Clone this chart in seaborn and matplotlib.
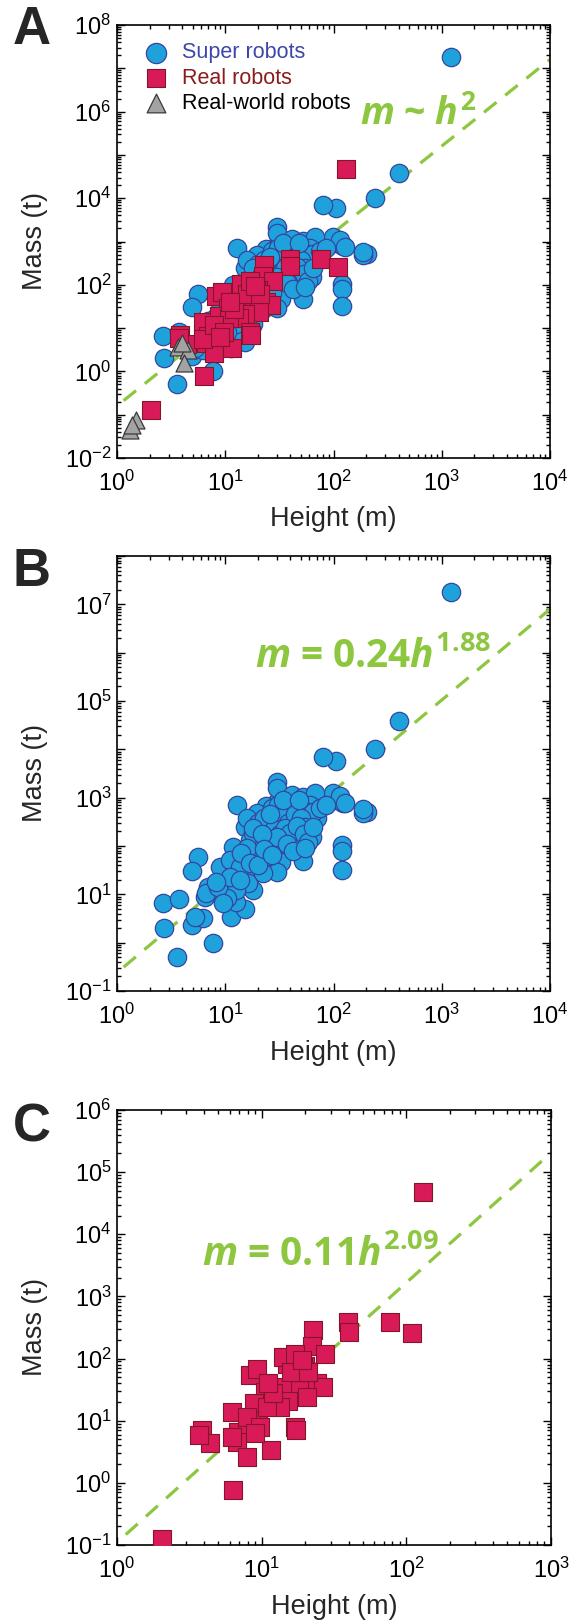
import matplotlib
matplotlib.use("Agg")
import matplotlib.pyplot as plt
import matplotlib.ticker as mticker
import numpy as np
import seaborn as sns

# super robots: height (m), mass (t)
SUPER_H = [12.9, 5.6, 4.9, 2.64, 3.7, 2.73, 3.56, 7.7, 4.9, 6.2, 5.25, 11.3, 15.2, 12.6,
           7.0, 6.5, 8.8, 10.3, 12.7, 11.9, 15.2, 18.2, 18.2, 16.9, 19.5, 24.1, 29.8, 25,
           20.9, 29.8, 42.5, 56.5, 47.2, 62.8, 47, 51.8, 69.8, 29.8, 39.6, 60.5, 101, 123,
           206, 120, 120, 120, 8.9, 11, 15.2, 19.5, 22.4, 30, 21, 24, 16.3, 12.7, 10.3,
           6.7, 8.6, 36.8, 42.5, 49, 34.3, 45.6, 70,
           1213, 402, 241, 105, 99.5, 121,
           80, 29.8, 29.8, 41, 52.5, 67, 60.5, 188, 24, 19.5, 42.5, 15.8,
           25.9, 33, 21.7, 18.2, 26.8, 33, 30, 13.7, 11, 13.7, 8.3, 9.6, 22.4, 52.5, 65,
           114, 127, 187,
           20, 23, 27, 31, 35, 38, 44, 50, 55, 28, 32, 36, 40, 46, 53, 58, 25, 30,
           18, 22, 26, 34, 48, 16, 14, 17, 20, 23, 27, 37, 42, 55, 65, 75, 85]
SUPER_M = [720, 60, 30, 6.5, 8.0, 2.0, 0.51, 1.0, 2.3, 3.2, 3.45, 3.45, 4.9, 6.9,
           14.5, 9, 12.7, 21.5, 47.5, 97, 250, 28, 12.3, 134, 407, 480, 440, 170,
           71, 90, 295, 295, 155, 155, 76, 48, 376, 830, 1050, 770, 900, 770,
           513, 105, 79, 32, 37, 51, 27, 60, 115, 250, 37, 60, 17, 12.3, 8.3,
           10.5, 14.5, 155, 115, 200, 560, 610, 770,
           1.8e7, 3.9e4, 1.0e4, 5800, 1240, 830,
           7100, 2150, 1580, 1150, 1050, 1240, 710, 480, 660, 480, 560, 376,
           345, 320, 250, 184, 97, 47.5, 29.5, 37, 23, 20, 18.3, 6.5, 27, 560, 515,
           1070, 760, 575,
           300, 380, 600, 700, 420, 300, 450, 380, 250, 230, 180, 240, 190, 260, 180, 120, 130, 150,
           240, 180, 450, 900, 900, 90, 70, 45, 40, 85, 65, 110, 80, 90, 250, 600, 700]

# real robots
REAL_H = [22.7, 22.2, 39.5, 40, 27.4, 14.9, 20, 16.5, 8.3, 9.3, 10.5, 14.1, 18.4, 24,
          26.7, 20.5, 15.3, 13.4, 9.5, 6.2, 8.8, 10.8, 17, 17.4, 8.1, 6.9, 3.85, 4.4,
          6.7, 7.9, 11.6, 6.2, 7.9, 9.7, 9, 2.06, 6.3, 3.7, 18.4, 131, 77, 110,
          19.4, 14.9, 14.1, 12, 16, 21, 11, 17, 19]
REAL_M = [286, 158, 390, 270, 120, 107, 76, 93, 54, 69, 29, 35, 31, 40,
          35, 24, 21, 16.7, 13, 13.8, 19, 16.7, 8, 7, 7.5, 6.6, 7.0, 4.4,
          4.6, 2.6, 3.4, 5.5, 11.5, 8, 6.3, 0.127, 0.78, 6.0, 76, 4.8e4, 390, 259,
          74, 83, 107, 28, 60, 60, 40, 120, 95]

# real-world robots
WORLD_H = [1.32, 1.5, 1.37, 3.68, 4.55, 4.15, 3.95]
WORLD_M = [0.044, 0.076, 0.058, 3.7, 3.1, 1.54, 4.5]

# fits m = c * h^k
FIT_A = (0.16, 2.0)
FIT_B = (0.24, 1.88)
FIT_C = (0.11, 2.09)

LABELS = ["Super robots", "Real robots", "Real-world robots"]
FORMULA_A = r"$m$ ~ $h^{2}$"
FORMULA_B = r"$m$ = 0.24$h^{1.88}$"
FORMULA_C = r"$m$ = 0.11$h^{2.09}$"

A_XEXP = [0, 1, 2, 3, 4]
A_YEXP = list(range(-2, 9))
A_YLAB = [-2, 0, 2, 4, 6, 8]
B_YEXP = list(range(-1, 9))
B_YLAB = [-1, 1, 3, 5, 7]
C_XEXP = [0, 1, 2, 3]
C_YEXP = list(range(-1, 7))
C_YLAB = C_YEXP

BLUE, BLUE_EDGE = "#1fa2dc", "#34469e"
RED, RED_EDGE = "#d91a58", "#84162c"
GRAY, GRAY_EDGE = "#a3a3a3", "#3a3a3a"
GREEN = "#8dc63f"

sns.set_style("ticks")
plt.rcParams["font.family"] = ["Liberation Sans", "DejaVu Sans"]
plt.rcParams["mathtext.fontset"] = "custom"
plt.rcParams["mathtext.rm"] = "Open Sans:bold"
plt.rcParams["mathtext.it"] = "Open Sans:italic:bold"
plt.rcParams["mathtext.bf"] = "Open Sans:bold"


def tick_text(exps, shown):
    return [r"$\mathdefault{10^{%d}}$" % e if e in shown else "" for e in exps]


def style_axes(ax, xexp, yexp, ylab):
    ax.set_xscale("log")
    ax.set_yscale("log")
    ax.set_xlim(10.0 ** xexp[0], 10.0 ** xexp[-1])
    ax.set_ylim(10.0 ** yexp[0], 10.0 ** yexp[-1])
    ax.set_xticks([10.0 ** e for e in xexp])
    ax.set_xticklabels(tick_text(xexp, xexp))
    ax.set_yticks([10.0 ** e for e in yexp])
    ax.set_yticklabels(tick_text(yexp, ylab))
    ax.xaxis.set_minor_locator(mticker.LogLocator(base=10, subs=np.arange(2, 10), numticks=100))
    ax.yaxis.set_minor_locator(mticker.LogLocator(base=10, subs=np.arange(2, 10), numticks=100))
    ax.xaxis.set_minor_formatter(mticker.NullFormatter())
    ax.yaxis.set_minor_formatter(mticker.NullFormatter())
    ax.tick_params(which="both", direction="in", top=True, right=True, width=1.0,
                   labelsize=17, colors="black")
    ax.tick_params(which="major", length=5.5)
    ax.tick_params(which="minor", length=3)
    ax.tick_params(axis="x", pad=9)
    ax.tick_params(axis="y", pad=4)
    for sp in ax.spines.values():
        sp.set_linewidth(1.2)
        sp.set_color("black")
    ax.set_xlabel("Height (m)", fontsize=19.5, va="center")
    ax.set_ylabel("Mass (t)", fontsize=19.5, va="center")
    ax.xaxis.set_label_coords(0.5, -0.142)
    ax.yaxis.set_label_coords(-0.19, 0.5)


def fit_line(ax, fit, hmax):
    c, k = fit
    h = np.array([1.15, hmax])
    sns.lineplot(x=h, y=c * h ** k, ax=ax, color=GREEN, linewidth=2.3,
                 linestyle=(0, (5, 3.5)), zorder=1)


def draw_super(ax, label=None):
    sns.scatterplot(x=SUPER_H, y=SUPER_M, ax=ax, marker="o", s=175, color=BLUE,
                    edgecolor=BLUE_EDGE, linewidth=0.9, label=label, zorder=3)


def draw_real(ax, label=None):
    sns.scatterplot(x=REAL_H, y=REAL_M, ax=ax, marker="s", s=150, color=RED,
                    edgecolor=RED_EDGE, linewidth=0.8, label=label, zorder=4)


fig = plt.figure(figsize=(5.72, 16.22), dpi=100)
W, H = 572, 1622
axA = fig.add_axes([117 / W, 1 - 458 / H, 433 / W, 433 / H])
axB = fig.add_axes([117 / W, 1 - 991 / H, 433 / W, 435 / H])
axC = fig.add_axes([117 / W, 1 - 1545 / H, 434 / W, 435 / H])

# panel A
fit_line(axA, FIT_A, 1e4)
draw_super(axA, LABELS[0])
draw_real(axA, LABELS[1])
sns.scatterplot(x=WORLD_H, y=WORLD_M, ax=axA, marker="^", s=150, color=GRAY,
                edgecolor=GRAY_EDGE, linewidth=0.9, label=LABELS[2], zorder=5)
style_axes(axA, A_XEXP, A_YEXP, A_YLAB)
leg = axA.legend(loc="upper left", frameon=False, fontsize=15.5, handletextpad=0.2,
                 labelspacing=0.2, borderaxespad=0.4, markerscale=1.1,
                 bbox_to_anchor=(0.0, 1.0))
for txt, col in zip(leg.get_texts(), ["#3d47a8", "#8a1c1c", "black"]):
    txt.set_color(col)
axA.text(0.695, 0.792, FORMULA_A, transform=axA.transAxes, fontsize=27,
         family="Open Sans", weight="bold", color=GREEN, ha="center", va="center")

# panel B
fit_line(axB, FIT_B, 1e4)
draw_super(axB)
style_axes(axB, A_XEXP, B_YEXP, B_YLAB)
axB.text(0.591, 0.768, FORMULA_B, transform=axB.transAxes, fontsize=28,
         family="Open Sans", weight="bold", color=GREEN, ha="center", va="center")

# panel C
fit_line(axC, FIT_C, 1e3)
draw_real(axC)
style_axes(axC, C_XEXP, C_YEXP, C_YLAB)
axC.text(0.468, 0.668, FORMULA_C, transform=axC.transAxes, fontsize=28,
         family="Open Sans", weight="bold", color=GREEN, ha="center", va="center")

for letter, yy in zip(["A", "B", "C"], [30, 572, 1128]):
    fig.text(32 / W, 1 - yy / H, letter, fontsize=38, weight="bold",
             ha="center", va="center")

fig.savefig("out.png", dpi=100)
